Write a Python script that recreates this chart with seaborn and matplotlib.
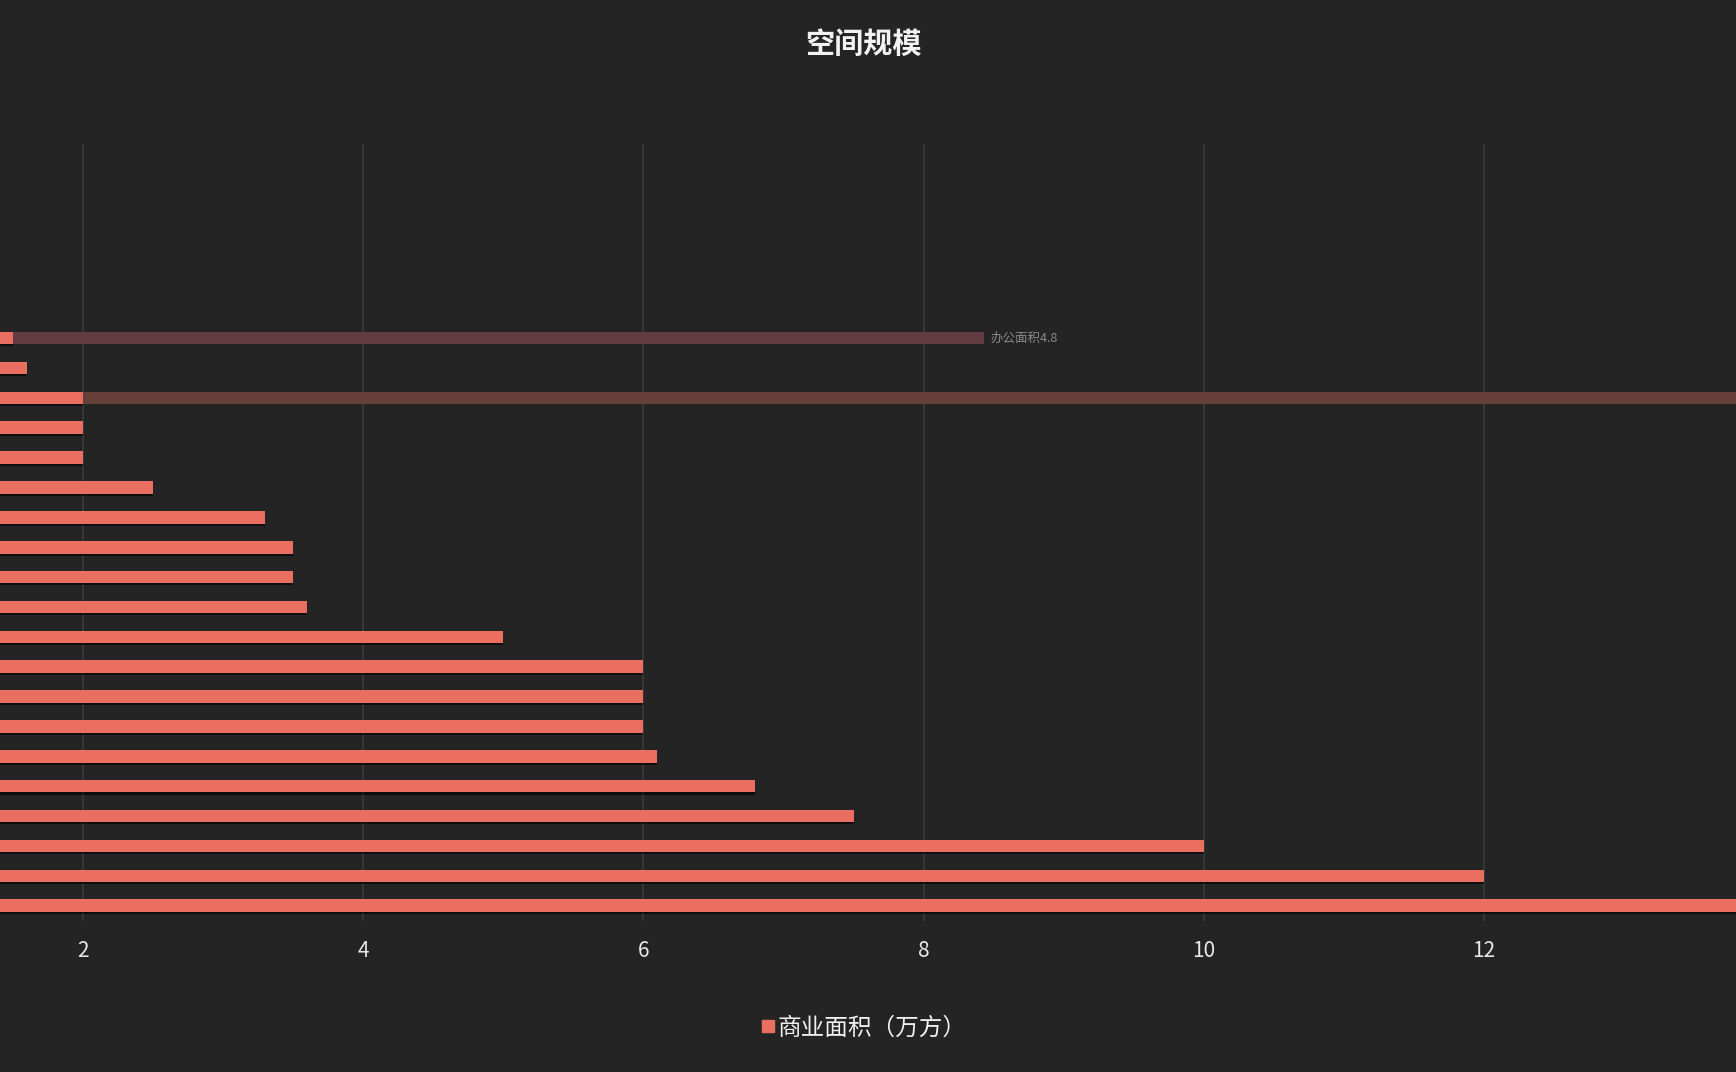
import matplotlib
matplotlib.use("Agg")
import matplotlib.pyplot as plt
import matplotlib.patheffects as pe
from matplotlib.lines import Line2D
import seaborn as sns
import pandas as pd

# ---- data (category names are cropped off in the reference) ----
categories = [f"项目{i}" for i in range(1, 21)]
commercial_area = [1.5, 1.6, 2.0, 2.0, 2.0, 2.5, 3.3, 3.5, 3.5, 3.6,
                   5.0, 6.0, 6.0, 6.0, 6.1, 6.8, 7.5, 10.0, 12.0, 15.0]
# highlight bands seen in the picture (row index -> drawn extent)
band_rows = [0, 2]
band_extent = [8.43, 20.0]
band_colors = ["#633B43", "#663F39"]
office_label = "办公面积4.8"

title = "空间规模"
series_name = "商业面积（万方）"
x_ticks = [2, 4, 6, 8, 10, 12]

BG = "#242424"
BAR = "#EA6F60"

sns.set_theme(style="dark")
plt.rcParams["font.family"] = ["Noto Sans CJK SC", "DejaVu Sans"]

fig = plt.figure(figsize=(17.36, 10.72), dpi=100, facecolor=BG)
ax = fig.add_axes([0.0, 0.1412, 1.0, 0.7245])
ax.set_facecolor(BG)

df = pd.DataFrame({"cat": categories, "val": commercial_area})

# background highlight bands
for r, ext, c in zip(band_rows, band_extent, band_colors):
    ax.barh(r, ext, height=0.42, color=c, zorder=1, linewidth=0)

sns.barplot(data=df, y="cat", x="val", orient="h", color=BAR, width=0.42,
            saturation=1, ax=ax, zorder=3, linewidth=0)
for p in ax.patches[len(band_rows):]:
    p.set_path_effects([pe.SimplePatchShadow(offset=(0, -1.5), shadow_rgbFace="#000000", alpha=0.6),
                        pe.Normal()])

ax.text(band_extent[0] + 0.05, band_rows[0], office_label, color="#8a8a8a",
        fontsize=9, va="center", ha="left", zorder=4)

ax.set_xticks(x_ticks)
ax.set_xticklabels([str(t) for t in x_ticks])
ax.set_xlim(1.407, 13.80)
ax.set_ylim(19.5, -6.5)
ax.set_yticks([])
ax.set_xlabel("")
ax.set_ylabel("")
ax.tick_params(axis="x", colors="#e8e8e8", labelsize=15, length=0, pad=14)
ax.grid(axis="x", color="#3b3b3b", linewidth=1.2, zorder=0)
ax.grid(axis="y", visible=False)
ax.set_axisbelow(True)
for s in ax.spines.values():
    s.set_visible(False)

fig.text(0.4975, 0.959, title, color="#f2f2f2", fontsize=21, fontweight="bold",
         ha="center", va="center")

handle = Line2D([], [], marker="s", linestyle="none", color=BAR, markersize=8)
fig.legend([handle], [series_name], loc="center", bbox_to_anchor=(0.4975, 0.041),
           frameon=False, fontsize=17, handlelength=0.6, handletextpad=0.1,
           labelcolor="#f0f0f0")

fig.savefig("out.png", dpi=100, facecolor=BG)
